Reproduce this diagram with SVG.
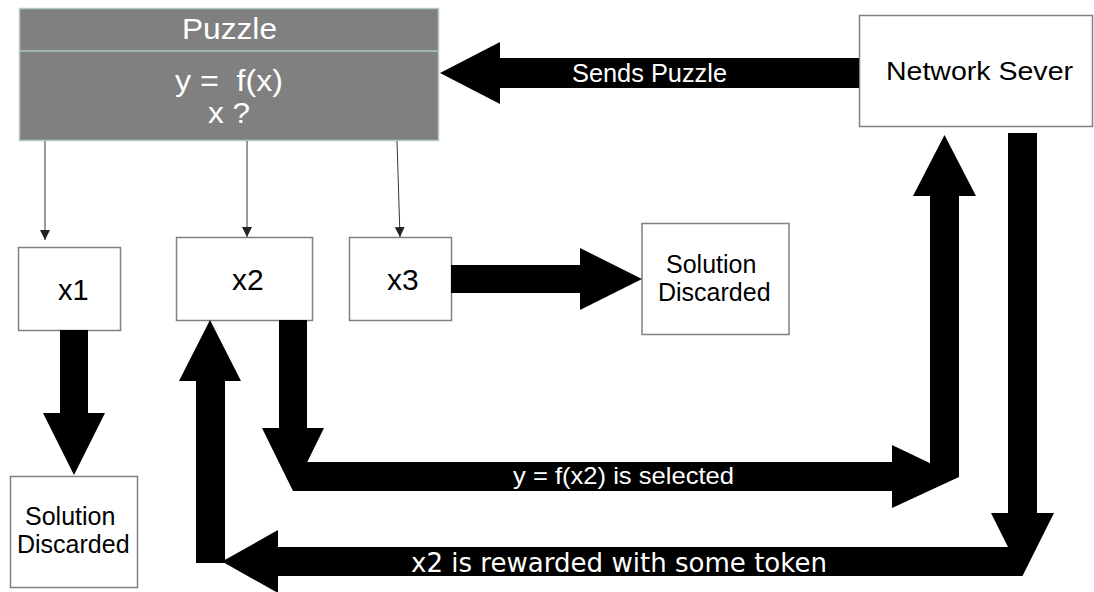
<svg xmlns="http://www.w3.org/2000/svg" width="1094" height="592" viewBox="0 0 1094 592">
  <defs>
    <marker id="thin" viewBox="0 0 10 10" refX="10" refY="5" markerWidth="10" markerHeight="10" markerUnits="userSpaceOnUse" orient="auto">
      <path d="M0,0 L10,5 L0,10 Z" fill="#222"/>
    </marker>
    <style>
      .box { fill: #ffffff; stroke: #808080; stroke-width: 1.5; }
      .lbl { font-family: "Liberation Sans", Arial, sans-serif; fill: #000; }
      .wt { font-family: "Liberation Sans", Arial, sans-serif; fill: #ffffff; }
      .big { fill: #000000; }
      .thin { stroke: #333; stroke-width: 1; fill: none; marker-end: url(#thin); }
    </style>
  </defs>
  <rect width="1094" height="592" fill="#ffffff"/>

  <g id="puzzle">
    <rect x="19.5" y="8.5" width="419" height="132" fill="#808080" stroke="#b4c8ca" stroke-width="1.5"/>
    <line x1="19.5" y1="51" x2="438.5" y2="51" stroke="#9fb6b6" stroke-width="2"/>
    <text class="wt" x="182" y="39" font-size="29" textLength="95" lengthAdjust="spacingAndGlyphs">Puzzle</text>
    <text class="wt" x="175" y="91" font-size="30" textLength="108" lengthAdjust="spacingAndGlyphs">y =&#160; f(x)</text>
    <text class="wt" x="208" y="123" font-size="30" textLength="42" lengthAdjust="spacingAndGlyphs">x ?</text>
  </g>

  <g id="server">
    <rect class="box" x="859.5" y="15.5" width="233" height="111"/>
    <text class="lbl" x="886" y="80" font-size="25" textLength="187" lengthAdjust="spacingAndGlyphs">Network Sever</text>
  </g>

  <g id="x1">
    <rect class="box" x="18.5" y="247.5" width="102" height="83"/>
    <text class="lbl" x="58" y="300" font-size="29">x1</text>
  </g>
  <g id="x2">
    <rect class="box" x="176.5" y="237.5" width="136" height="83"/>
    <text class="lbl" x="232" y="290" font-size="30">x2</text>
  </g>
  <g id="x3">
    <rect class="box" x="349.5" y="237.5" width="102" height="83"/>
    <text class="lbl" x="387" y="290" font-size="30">x3</text>
  </g>

  <g id="discard-right">
    <rect class="box" x="642" y="223.5" width="147" height="111"/>
    <text class="lbl" x="666" y="273" font-size="25">Solution</text>
    <text class="lbl" x="658" y="301" font-size="25">Discarded</text>
  </g>
  <g id="discard-left">
    <rect class="box" x="10.5" y="476.5" width="127" height="111"/>
    <text class="lbl" x="25" y="525" font-size="25">Solution</text>
    <text class="lbl" x="17" y="553" font-size="25">Discarded</text>
  </g>

  <g id="connectors">
    <line class="thin" x1="45" y1="141" x2="45" y2="240"/>
    <line class="thin" x1="247" y1="141" x2="247" y2="237"/>
    <line class="thin" x1="397" y1="141" x2="400" y2="237"/>

    <polygon class="big" points="859,58 500,58 500,42 440,73 500,104 500,88 859,88"/>
    <text class="wt" x="572" y="82" font-size="25" textLength="155" lengthAdjust="spacingAndGlyphs">Sends Puzzle</text>

    <polygon class="big" points="451,265 580,265 580,248 642,279 580,310 580,293 451,293"/>

    <polygon class="big" points="60,330 60,413 43,413 74,475 105,413 88,413 88,330"/>

    <polygon class="big" points="279,320 279,428 262,428 293,491 324,428 307,428 307,320"/>
    <polygon class="big" points="293,462 892,462 892,445 959,477 892,508 892,491 293,491"/>
    <text class="wt" x="513" y="484" font-size="24" textLength="221" lengthAdjust="spacingAndGlyphs">y = f(x2) is selected</text>

    <polygon class="big" points="930,477 930,196 913,196 944.5,135 976,196 959,196 959,477"/>

    <polygon class="big" points="1008,133 1008,513 991,513 1022.5,576 1054,513 1037,513 1037,133"/>
    <polygon class="big" points="1022.5,547 278,547 278,530 222,561.5 278,593 278,576 1022.5,576"/>
    <text x="411" y="572" font-size="26" fill="#ffffff" font-family="'DejaVu Sans', Verdana, sans-serif" textLength="416" lengthAdjust="spacingAndGlyphs">x2 is rewarded with some token</text>

    <polygon class="big" points="196,563 196,381 179,381 210,320 241,381 225,381 225,563"/>
  </g>
</svg>
